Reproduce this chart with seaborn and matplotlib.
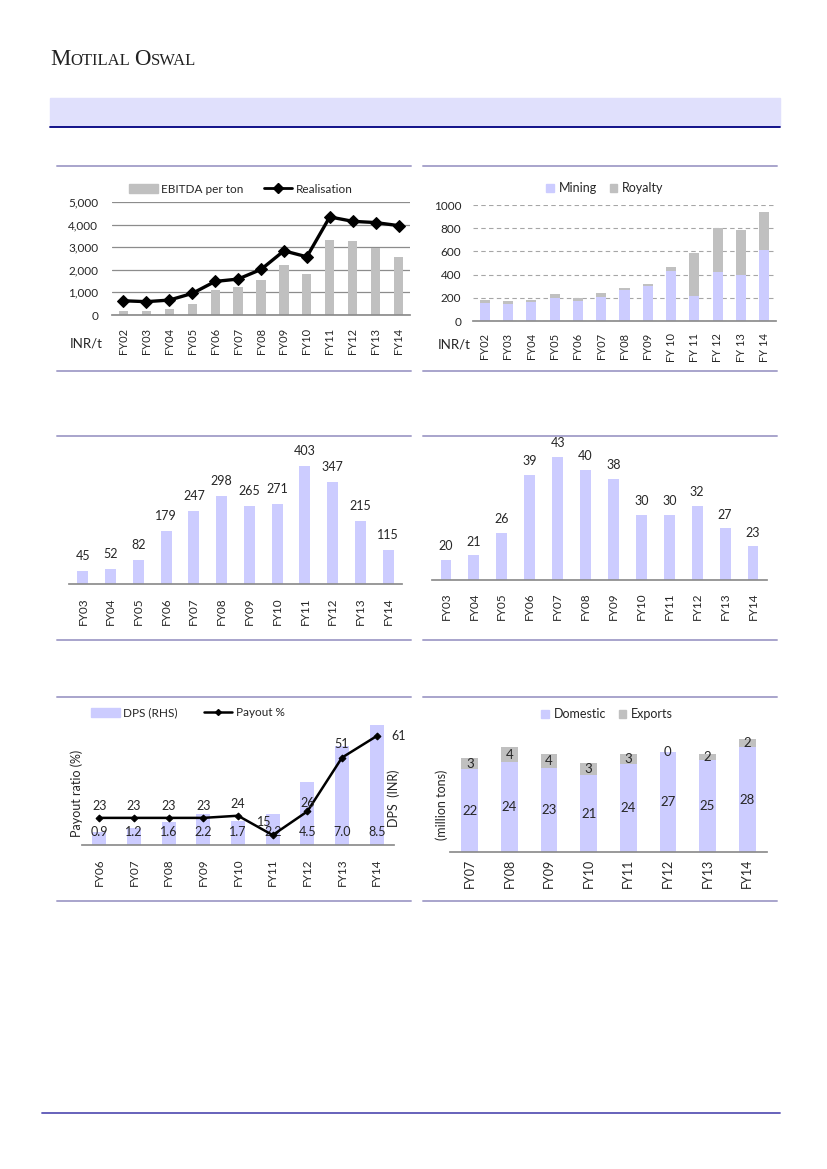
import numpy as np
import matplotlib
matplotlib.use('Agg')
import matplotlib.pyplot as plt
from matplotlib.lines import Line2D
from matplotlib.patches import Patch, Rectangle
import seaborn as sns

# EBITDA per ton vs realisation (INR/t)
yrs_a = ['FY02', 'FY03', 'FY04', 'FY05', 'FY06', 'FY07', 'FY08',
         'FY09', 'FY10', 'FY11', 'FY12', 'FY13', 'FY14']
ebitda_t = [190, 195, 265, 485, 1100, 1235, 1545, 2205, 1810, 3310, 3265, 2985, 2560]
realisation = [630, 590, 660, 955, 1485, 1590, 2015, 2840, 2575, 4340, 4145, 4090, 3955]

# cost split (INR/t)
yrs_b = ['FY02', 'FY03', 'FY04', 'FY05', 'FY06', 'FY07', 'FY08',
         'FY09', 'FY 10', 'FY 11', 'FY 12', 'FY 13', 'FY 14']
mining = [158, 147, 167, 198, 175, 210, 270, 302, 434, 216, 422, 400, 612]
royalty = [26, 25, 17, 38, 23, 34, 17, 20, 34, 373, 380, 384, 328]

# middle row
yrs_c = ['FY03', 'FY04', 'FY05', 'FY06', 'FY07', 'FY08',
         'FY09', 'FY10', 'FY11', 'FY12', 'FY13', 'FY14']
vals_c = [45, 52, 82, 179, 247, 298, 265, 271, 403, 347, 215, 115]
vals_d = [20, 21, 26, 39, 43, 40, 38, 30, 30, 32, 27, 23]

# dividend
yrs_e = ['FY06', 'FY07', 'FY08', 'FY09', 'FY10', 'FY11', 'FY12', 'FY13', 'FY14']
dps = [0.9, 1.2, 1.6, 2.2, 1.7, 2.2, 4.5, 7.0, 8.5]
payout = [23, 23, 23, 23, 24, 15, 26, 51, 61]

# volumes (million tons)
yrs_f = ['FY07', 'FY08', 'FY09', 'FY10', 'FY11', 'FY12', 'FY13', 'FY14']
domestic = [22.2, 24.0, 22.6, 20.6, 23.6, 26.7, 24.6, 28.0]
exports = [2.9, 4.0, 3.7, 3.3, 2.6, 0.2, 1.6, 2.2]

LAV = '#CCCCFF'
GRY = '#C0C0C0'
AXC = '#8C8C8C'
SEP = '#A8A4CC'

sns.set_theme(style='white')
plt.rcParams['font.family'] = ['Lato', 'DejaVu Sans']

W, H = 827, 1169
fig = plt.figure(figsize=(W / 100, H / 100), dpi=100)
fig.patch.set_facecolor('white')


def box(l, t, r, b):
    return fig.add_axes([l / W, 1 - b / H, (r - l) / W, (b - t) / H])


def hline(x0, x1, y, color, lw):
    fig.add_artist(Line2D([x0 / W, x1 / W], [1 - y / H, 1 - y / H],
                          color=color, lw=lw, transform=fig.transFigure))


def fpos(x, y):
    return (x / W, 1 - y / H)


def clean(ax, left=False):
    ax.set_xlabel('')
    ax.set_ylabel('')
    for s in ['top', 'right', 'left']:
        ax.spines[s].set_visible(False)
    ax.spines['bottom'].set_color(AXC)
    if not left:
        ax.set_yticks([])


# --- page header ---
renderer = fig.canvas.get_renderer()
x = 50
for s, big in [('M', True), ('OTILAL', False), ('O', True), ('SWAL', False)]:
    t = fig.text(x / W, 1 - 65 / H, s, fontsize=16.5 if big else 12,
                 family='Liberation Serif', color='#222222', va='baseline')
    x += t.get_window_extent(renderer).width
    if s == 'OTILAL':
        x += 4
fig.add_artist(Rectangle(fpos(50, 126), 730 / W, 28 / H, color='#E0E0FC',
                         transform=fig.transFigure, zorder=0))
hline(50, 780, 127, '#000080', 1.3)
hline(42, 780, 1113, '#5A55B5', 1.3)

for y in [166, 371, 436, 640, 697, 901]:
    hline(57, 411, y, SEP, 1.4)
    hline(423, 777, y, SEP, 1.4)

# --- panel 1 ---
ax1 = box(112, 202, 410, 315)
sns.barplot(x=yrs_a, y=ebitda_t, color=GRY, width=0.4, saturation=1,
            linewidth=0, errorbar=None, ax=ax1, zorder=2)
sns.lineplot(x=yrs_a, y=realisation, sort=False, color='black', lw=2.4,
             marker='D', markersize=6.5, markeredgecolor='black', ax=ax1, zorder=3)
clean(ax1, left=True)
ax1.set_xlim(-0.5, len(yrs_a) - 0.5)
ax1.set_ylim(0, 5000)
ax1.set_yticks(range(0, 5001, 1000))
ax1.set_yticklabels([f'{v:,}' for v in range(0, 5001, 1000)])
ax1.set_axisbelow(True)
ax1.yaxis.grid(True, color=AXC, lw=0.9)
ax1.set_xticks(np.arange(-0.5, len(yrs_a), 1), minor=True)
ax1.tick_params(axis='x', which='minor', length=4, color=AXC, direction='out')
ax1.tick_params(axis='x', which='major', length=0, labelrotation=90, pad=9, labelsize=8)
ax1.tick_params(axis='y', length=0, pad=10, labelsize=8.5)
fig.text(*fpos(70, 343), 'INR/t', fontsize=9.5, va='center')
ax1.legend([Patch(color=GRY), Line2D([], [], color='black', lw=2, marker='D', markersize=5)],
           ['EBITDA per ton', 'Realisation'], loc='center', ncol=2,
           bbox_to_anchor=fpos(241, 189), bbox_transform=fig.transFigure,
           frameon=False, fontsize=8.5, handlelength=2.4, columnspacing=1.7, handletextpad=0.3)

# --- panel 2 ---
ax2 = box(473, 205, 776, 321)
total_b = [m + r for m, r in zip(mining, royalty)]
sns.barplot(x=yrs_b, y=total_b, color=GRY, width=0.43, saturation=1,
            linewidth=0, errorbar=None, ax=ax2, zorder=2)
sns.barplot(x=yrs_b, y=mining, color=LAV, width=0.43, saturation=1,
            linewidth=0, errorbar=None, ax=ax2, zorder=2)
clean(ax2, left=True)
ax2.set_ylim(0, 1000)
ax2.set_yticks(range(0, 1001, 200))
ax2.set_axisbelow(True)
ax2.yaxis.grid(True, color='#A6A6A6', lw=0.8, ls=(0, (4, 3)))
ax2.tick_params(axis='x', length=0, labelrotation=90, pad=8.5, labelsize=8)
ax2.tick_params(axis='y', length=0, pad=8.5, labelsize=8.5)
fig.text(*fpos(438, 345), 'INR/t', fontsize=9.5, va='center')
ax2.legend([Patch(color=LAV), Patch(color=GRY)], ['Mining', 'Royalty'],
           loc='center', ncol=2, bbox_to_anchor=fpos(605, 188),
           bbox_transform=fig.transFigure, frameon=False, fontsize=9,
           handlelength=0.6, handleheight=0.6, columnspacing=1.0, handletextpad=0.4)

# --- panel 3 ---
ax3 = box(69, 440, 402, 584)
sns.barplot(x=yrs_c, y=vals_c, color=LAV, width=0.4, saturation=1,
            linewidth=0, errorbar=None, ax=ax3)
clean(ax3)
ax3.set_ylim(0, 490)
ax3.bar_label(ax3.containers[0], padding=6.5, fontsize=9)
ax3.tick_params(axis='x', length=0, labelrotation=90, pad=9.5, labelsize=8.5)

# --- panel 4 ---
ax4 = box(432, 440, 767, 580)
sns.barplot(x=yrs_c, y=vals_d, color=LAV, width=0.39, saturation=1,
            linewidth=0, errorbar=None, ax=ax4)
clean(ax4)
ax4.set_ylim(15.5, 46.7)
ax4.bar_label(ax4.containers[0], padding=5.5, fontsize=9)
ax4.tick_params(axis='x', length=0, labelrotation=90, pad=9, labelsize=8.5)

# --- panel 5 ---
ax5 = box(82, 718, 394, 845)
ax5b = ax5.twinx()
sns.barplot(x=yrs_e, y=dps, color=LAV, width=0.4, saturation=1,
            linewidth=0, errorbar=None, ax=ax5b)
sns.lineplot(x=yrs_e, y=payout, sort=False, color='black', lw=1.8,
             marker='D', markersize=3.5, markeredgecolor='black', ax=ax5)
ax5.set_zorder(ax5b.get_zorder() + 1)
ax5.patch.set_visible(False)
clean(ax5)
ax5b.set_xlabel('')
ax5b.set_ylabel('')
for s in ax5b.spines.values():
    s.set_visible(False)
ax5b.set_yticks([])
ax5.set_xlim(-0.5, len(yrs_e) - 0.5)
ax5b.set_ylim(0, 9.0)
ax5.set_ylim(10.4, 69.4)
ax5.tick_params(axis='x', length=0, labelrotation=90, pad=9.5, labelsize=8.5)
for i, v in enumerate(dps):
    ax5b.annotate(f'{v:.1f}', (i, 0), xytext=(0, 9.5), textcoords='offset points',
                  ha='center', va='center', fontsize=9)
offs = {5: (-6, 9.5), 8: (16, 0), 7: (0, 10), 6: (0, 6)}
for i, v in enumerate(payout):
    ax5.annotate(f'{v}', (i, v), xytext=offs.get(i, (0, 8.5)), textcoords='offset points',
                 ha='center', va='center', fontsize=9)
fig.text(*fpos(77, 793), 'Payout ratio (%)', rotation=90, ha='center', va='center', fontsize=9)
fig.text(*fpos(394, 798), 'DPS  (INR)', rotation=90, ha='center', va='center', fontsize=9)
ax5.legend([Patch(color=LAV), Line2D([], [], color='black', lw=1.8, marker='D', markersize=3)],
           ['DPS (RHS)', 'Payout %'], loc='center', ncol=2,
           bbox_to_anchor=fpos(188, 713), bbox_transform=fig.transFigure,
           frameon=False, fontsize=8.5, handlelength=2.4, columnspacing=2.2, handletextpad=0.3)

# --- panel 6 ---
ax6 = box(450, 725, 767, 852)
total_f = [d + e for d, e in zip(domestic, exports)]
sns.barplot(x=yrs_f, y=total_f, color=GRY, width=0.42, saturation=1,
            linewidth=0, errorbar=None, ax=ax6)
sns.barplot(x=yrs_f, y=domestic, color=LAV, width=0.42, saturation=1,
            linewidth=0, errorbar=None, ax=ax6)
clean(ax6)
ax6.set_ylim(0, 34)
for i, (d, e) in enumerate(zip(domestic, exports)):
    ax6.text(i, d / 2, f'{d:.0f}', ha='center', va='center', fontsize=9.5)
    ax6.text(i, d + e / 2, f'{e:.0f}', ha='center', va='center', fontsize=9.5)
ax6.tick_params(axis='x', length=0, labelrotation=90, pad=5, labelsize=9)
fig.text(*fpos(442, 805), '(million tons)', rotation=90, ha='center', va='center', fontsize=9)
ax6.legend([Patch(color=LAV), Patch(color=GRY)], ['Domestic', 'Exports'],
           loc='center', ncol=2, bbox_to_anchor=fpos(607, 714),
           bbox_transform=fig.transFigure, frameon=False, fontsize=9,
           handlelength=0.6, handleheight=0.6, columnspacing=1.0, handletextpad=0.4)

fig.savefig('out.png', dpi=100)
